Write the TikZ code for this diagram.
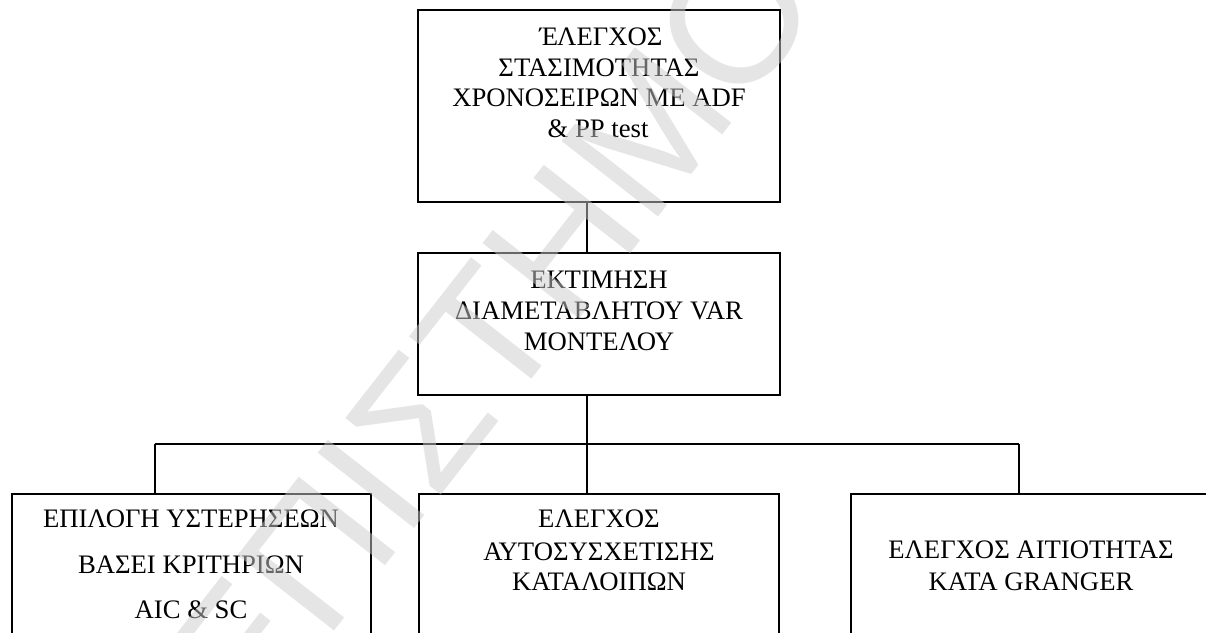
\documentclass[tikz,border=0pt]{standalone}
\usepackage{fontspec}
\setmainfont{Liberation Serif}
\newfontfamily\wmfont{Liberation Sans}
\begin{document}
\begin{tikzpicture}[x=1pt,y=-1pt,
  box/.style={draw=black, line width=1.7pt, inner sep=0pt, outer sep=0pt, anchor=north west, minimum width=#1},
  conn/.style={draw=black, line width=1.5pt},
  bar/.style={draw=black, line width=2pt},
  lbl/.style={anchor=base, inner sep=0pt, font=\fontsize{26.7}{31}\selectfont},
  wm/.style={text=black!20, opacity=0.5, font=\wmfont\fontsize{178}{178}\selectfont, inner sep=0pt}
]
\clip (0,0) rectangle (1206,632);
\fill[white] (0,0) rectangle (1206,632);

% boxes
\node[box=362pt, minimum height=192pt] (top) at (418,10) {};
\node[box=362pt, minimum height=142pt] (mid) at (418,253) {};
\node[box=359pt, minimum height=170pt] (bl) at (12,494) {};
\node[box=360pt, minimum height=170pt] (bm) at (419,494) {};
\node[box=360pt, minimum height=170pt] (br) at (851,494) {};

% texts
\node[lbl] (t1) at (601,45) {Έ\kern-1ptΛΕΓΧΟΣ};
\node[lbl] (t2) at (599,76) {ΣΤΑΣΙΜΟΤΗΤΑΣ};
\node[lbl] (t3) at (599,106) {ΧΡΟΝΟΣΕΙΡΩΝ ΜΕ ADF};
\node[lbl] (t4) at (598,137) {\& PP test};

\node[lbl] (m1) at (599,288) {ΕΚΤΙΜΗΣΗ};
\node[lbl] (m2) at (599,319) {ΔΙΑΜΕΤΑΒΛΗΤΟΥ VAR};
\node[lbl] (m3) at (599,350) {ΜΟΝΤΕΛΟΥ};

\node[lbl] (l1) at (191,527) {ΕΠΙΛΟΓΗ ΥΣΤΕΡΗΣΕΩΝ};
\node[lbl] (l2) at (191,573) {ΒΑΣΕΙ ΚΡΙΤΗΡΙΩΝ};
\node[lbl] (l3) at (191,618) {AIC \& SC};

\node[lbl] (c1) at (599,527) {ΕΛΕΓΧΟΣ};
\node[lbl] (c2) at (599,560) {ΑΥΤΟΣΥΣΧΕΤΙΣΗΣ};
\node[lbl] (c3) at (599,590) {ΚΑΤΑΛΟΙΠΩΝ};

\node[lbl] (r1) at (1031,558) {ΕΛΕΓΧΟΣ ΑΙΤΙΟΤΗΤΑΣ};
\node[lbl] (r2) at (1031,590) {ΚΑΤΑ GRANGER};

% connectors
\coordinate (jl) at (155,444);
\coordinate (jm) at (587,444);
\coordinate (jr) at (1019,444);
\draw[conn] (top.south -| jm) -- (jm |- mid.north);
\draw[conn] (mid.south -| jm) -- (jm);
\draw[bar] (jl) -- (jr);
\draw[conn] (jl) -- (jl |- bl.north);
\draw[conn] (jm) -- (jm |- bm.north);
\draw[conn] (jr) -- (jr |- br.north);

% watermark
\node[wm, rotate=52] (wmk) at (491,332) {ΕΠΙΣΤΗΜΟ};
\end{tikzpicture}
\end{document}
